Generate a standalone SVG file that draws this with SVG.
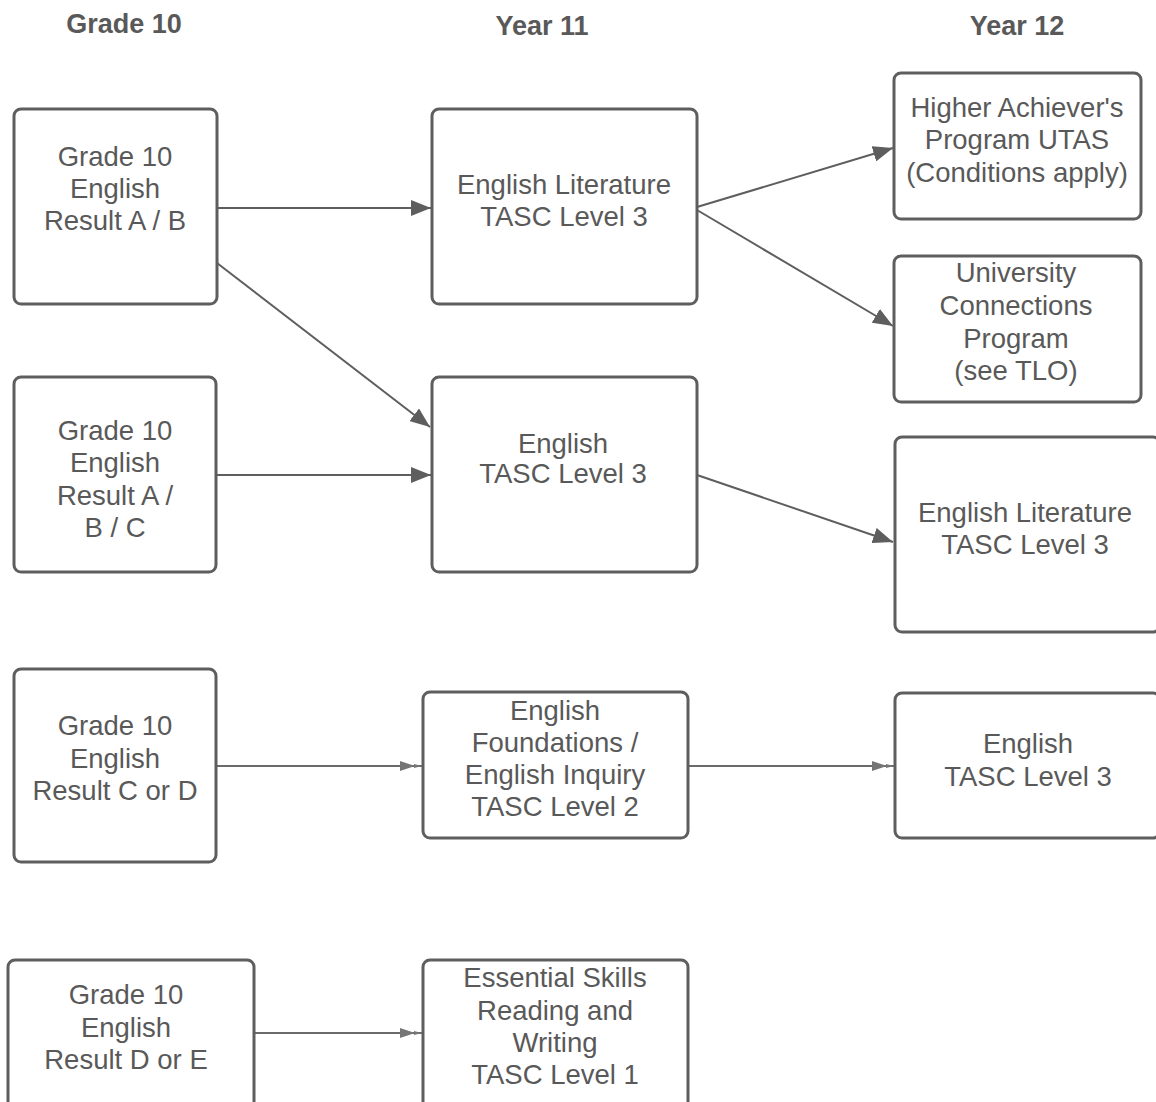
<svg xmlns="http://www.w3.org/2000/svg" width="1156" height="1102" viewBox="0 0 1156 1102">
<style>
.box{fill:#fff;stroke:#5e5e5e;stroke-width:3}
.t{font-family:"Liberation Sans",Arial,sans-serif;font-size:27.5px;fill:#595959;text-anchor:middle}
.h{font-family:"Liberation Sans",Arial,sans-serif;font-size:27px;font-weight:bold;fill:#595959;text-anchor:middle}
.c{fill:none;stroke:#5e5e5e;stroke-width:2}
.c2{fill:none;stroke:#6a6a6a;stroke-width:2}
</style>
<defs>
<marker id="a" viewBox="0 0 20 16" refX="20" refY="8" markerWidth="20" markerHeight="16" markerUnits="userSpaceOnUse" orient="auto">
<path d="M0,0 L20,8 L0,16 Z" fill="#5e5e5e"/>
</marker>
<marker id="b" viewBox="0 0 24 14" refX="24" refY="7" markerWidth="24" markerHeight="14" markerUnits="userSpaceOnUse" orient="auto">
<path d="M2,2 L17,7 L2,12 Z" fill="#757575"/>
<path d="M16,5 L24,7 L16,9 Z" fill="#757575"/>
</marker>
</defs>
<rect width="1156" height="1102" fill="#fff"/>
<g id="headers">
<text class="h" x="124" y="33">Grade 10</text>
<text class="h" x="542" y="35">Year 11</text>
<text class="h" x="1017" y="35">Year 12</text>
</g>
<g id="connectors">
<line class="c" x1="217" y1="208" x2="431" y2="208" marker-end="url(#a)"/>
<line class="c" x1="217" y1="263" x2="430" y2="427" marker-end="url(#a)"/>
<line class="c" x1="217" y1="475" x2="431" y2="475" marker-end="url(#a)"/>
<line class="c" x1="697" y1="207" x2="893" y2="148" marker-end="url(#a)"/>
<line class="c" x1="697" y1="210" x2="893" y2="326" marker-end="url(#a)"/>
<line class="c" x1="697" y1="475" x2="893" y2="542" marker-end="url(#a)"/>
<line class="c2" x1="216" y1="766" x2="422" y2="766" marker-end="url(#b)"/>
<line class="c2" x1="688" y1="766" x2="894" y2="766" marker-end="url(#b)"/>
<line class="c2" x1="254" y1="1033" x2="422" y2="1033" marker-end="url(#b)"/>
</g>
<g id="n1"><rect class="box" x="14" y="109" width="203" height="195" rx="7"/>
<text class="t" x="115" y="166">Grade 10</text><text class="t" x="115" y="198">English</text><text class="t" x="115" y="230">Result A / B</text></g>
<g id="n2"><rect class="box" x="14" y="377" width="202" height="195" rx="7"/>
<text class="t" x="115" y="440">Grade 10</text><text class="t" x="115" y="472">English</text><text class="t" x="115" y="505">Result A /</text><text class="t" x="115" y="537">B / C</text></g>
<g id="n3"><rect class="box" x="14" y="669" width="202" height="193" rx="7"/>
<text class="t" x="115" y="735">Grade 10</text><text class="t" x="115" y="768">English</text><text class="t" x="115" y="800">Result C or D</text></g>
<g id="n4"><rect class="box" x="8" y="960" width="246" height="160" rx="7"/>
<text class="t" x="126" y="1004">Grade 10</text><text class="t" x="126" y="1037">English</text><text class="t" x="126" y="1069">Result D or E</text></g>
<g id="n5"><rect class="box" x="432" y="109" width="265" height="195" rx="7"/>
<text class="t" x="564" y="194">English Literature</text><text class="t" x="564" y="226">TASC Level 3</text></g>
<g id="n6"><rect class="box" x="432" y="377" width="265" height="195" rx="7"/>
<text class="t" x="563" y="453">English</text><text class="t" x="563" y="483">TASC Level 3</text></g>
<g id="n7"><rect class="box" x="423" y="692" width="265" height="146" rx="7"/>
<text class="t" x="555" y="720">English</text><text class="t" x="555" y="752">Foundations /</text><text class="t" x="555" y="784">English Inquiry</text><text class="t" x="555" y="816">TASC Level 2</text></g>
<g id="n8"><rect class="box" x="423" y="960" width="265" height="160" rx="7"/>
<text class="t" x="555" y="987">Essential Skills</text><text class="t" x="555" y="1020">Reading and</text><text class="t" x="555" y="1052">Writing</text><text class="t" x="555" y="1084">TASC Level 1</text></g>
<g id="n9"><rect class="box" x="894" y="73" width="247" height="146" rx="7"/>
<text class="t" x="1017" y="117">Higher Achiever's</text><text class="t" x="1017" y="149">Program UTAS</text><text class="t" x="1017" y="182">(Conditions apply)</text></g>
<g id="n10"><rect class="box" x="894" y="256" width="247" height="146" rx="7"/>
<text class="t" x="1016" y="282">University</text><text class="t" x="1016" y="315">Connections</text><text class="t" x="1016" y="348">Program</text><text class="t" x="1016" y="380">(see TLO)</text></g>
<g id="n11"><rect class="box" x="895" y="437" width="265" height="195" rx="7"/>
<text class="t" x="1025" y="522">English Literature</text><text class="t" x="1025" y="554">TASC Level 3</text></g>
<g id="n12"><rect class="box" x="895" y="693" width="265" height="145" rx="7"/>
<text class="t" x="1028" y="753">English</text><text class="t" x="1028" y="786">TASC Level 3</text></g>
</svg>
